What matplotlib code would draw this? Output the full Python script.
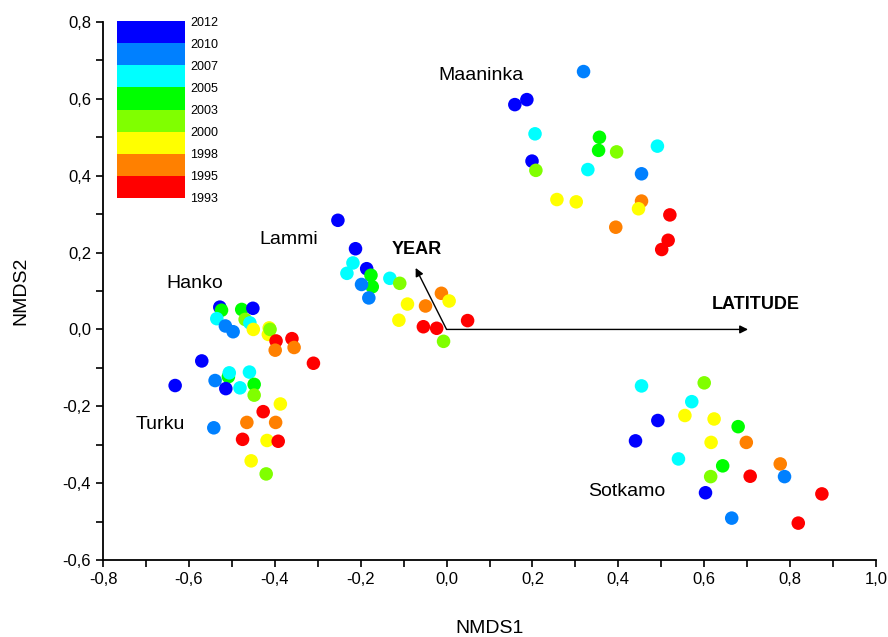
import matplotlib
matplotlib.use('Agg')
import matplotlib.pyplot as plt
from matplotlib.colors import ListedColormap, BoundaryNorm
from matplotlib.colorbar import ColorbarBase
from matplotlib.ticker import FuncFormatter, MultipleLocator

plt.rcParams['font.family'] = ['Liberation Sans', 'DejaVu Sans']

# year bands of the colour key
year_bounds = [1993, 1995, 1998, 2000, 2003, 2005, 2007, 2010, 2012]
band_colors = ['#ff0000', '#ff8000', '#ffff00', '#80ff00', '#00ff00', '#00ffff', '#0080ff', '#0000ff']

# Hanko + Turku (south-west)
sw_x = [-0.528, -0.524, -0.535, -0.515, -0.497, -0.477, -0.451, -0.469, -0.458, -0.450, -0.413, -0.415,
        -0.411, -0.397, -0.399, -0.360, -0.355, -0.310,
        -0.570, -0.632, -0.539, -0.508, -0.506, -0.514, -0.481, -0.459, -0.448, -0.448, -0.387, -0.427,
        -0.465, -0.398, -0.542, -0.475, -0.418, -0.392, -0.455, -0.420]
sw_y = [0.058, 0.050, 0.028, 0.009, -0.006, 0.052, 0.055, 0.026, 0.017, 0.000, 0.004, -0.013,
        0.000, -0.030, -0.054, -0.024, -0.047, -0.088,
        -0.082, -0.146, -0.133, -0.123, -0.113, -0.154, -0.152, -0.111, -0.143, -0.171, -0.194, -0.214,
        -0.242, -0.242, -0.256, -0.286, -0.289, -0.291, -0.342, -0.376]
sw_yr = [2011, 2004, 2006, 2008, 2008, 2004, 2011, 2001, 2006, 1999, 1999, 1999,
         2001, 1994, 1996, 1994, 1996, 1994,
         2011, 2011, 2008, 2004, 2006, 2011, 2006, 2006, 2004, 2001, 1999, 1994,
         1996, 1996, 2008, 1994, 1999, 1994, 1999, 2001]

# Lammi
lm_x = [-0.253, -0.212, -0.218, -0.232, -0.186, -0.176, -0.173, -0.198, -0.181, -0.132,
        -0.109, -0.091, -0.049, -0.012, 0.006, -0.111, -0.054, -0.023, 0.049, -0.007]
lm_y = [0.284, 0.210, 0.173, 0.146, 0.158, 0.141, 0.111, 0.117, 0.082, 0.133,
        0.120, 0.066, 0.061, 0.094, 0.074, 0.024, 0.007, 0.003, 0.023, -0.031]
lm_yr = [2011, 2011, 2006, 2006, 2011, 2004, 2004, 2008, 2008, 2006,
         2001, 1999, 1996, 1996, 1999, 1999, 1994, 1994, 1994, 2001]

# Maaninka
ma_x = [0.319, 0.159, 0.187, 0.206, 0.199, 0.208, 0.356, 0.354, 0.396, 0.329,
        0.491, 0.454, 0.257, 0.302, 0.454, 0.447, 0.394, 0.520, 0.516, 0.501]
ma_y = [0.671, 0.585, 0.598, 0.509, 0.438, 0.414, 0.500, 0.466, 0.462, 0.416,
        0.477, 0.405, 0.338, 0.332, 0.334, 0.314, 0.266, 0.298, 0.232, 0.208]
ma_yr = [2008, 2011, 2011, 2006, 2011, 2001, 2004, 2004, 2001, 2006,
         2006, 2008, 1999, 1999, 1996, 1999, 1996, 1994, 1994, 1994]

# Sotkamo
so_x = [0.454, 0.600, 0.571, 0.555, 0.492, 0.623, 0.679, 0.440, 0.616, 0.698,
        0.540, 0.643, 0.615, 0.707, 0.777, 0.787, 0.603, 0.874, 0.664, 0.819]
so_y = [-0.147, -0.139, -0.188, -0.224, -0.237, -0.233, -0.253, -0.290, -0.294, -0.294,
        -0.337, -0.355, -0.383, -0.382, -0.350, -0.383, -0.425, -0.428, -0.491, -0.504]
so_yr = [2006, 2001, 2006, 1999, 2011, 1999, 2004, 2011, 1999, 1996,
         2006, 2004, 2001, 1994, 1996, 2008, 2011, 1994, 2008, 1994]

sites = ['Maaninka', 'Lammi', 'Hanko', 'Turku', 'Sotkamo']
site_pos = [(-0.020, 0.661), (-0.437, 0.234), (-0.653, 0.120), (-0.725, -0.247), (0.329, -0.422)]

year_vec = (-0.072, 0.160)
lat_vec = (0.702, 0.0)

cmap = ListedColormap(band_colors)
norm = BoundaryNorm(year_bounds, cmap.N)

fig = plt.figure(figsize=(8.88, 6.37), dpi=100)
ax = fig.add_axes([103 / 888, 1 - 560 / 637, 773 / 888, 538 / 637])

for xs, ys, yrs in [(sw_x, sw_y, sw_yr), (lm_x, lm_y, lm_yr), (ma_x, ma_y, ma_yr), (so_x, so_y, so_yr)]:
    ax.scatter(xs, ys, c=yrs, cmap=cmap, norm=norm, s=95, linewidths=0, zorder=3)

for name, (tx, ty) in zip(sites, site_pos):
    ax.text(tx, ty, name, fontsize=14, ha='left', va='center')

for vec in [year_vec, lat_vec]:
    ax.annotate('', xy=vec, xytext=(0, 0),
                arrowprops=dict(arrowstyle='-|>', color='black', lw=1, mutation_scale=12,
                                shrinkA=0, shrinkB=0), zorder=4)
ax.text(-0.127, 0.208, 'YEAR', fontsize=13, fontweight='bold', ha='left', va='center')
ax.text(0.618, 0.065, 'LATITUDE', fontsize=13, fontweight='bold', ha='left', va='center')

ax.set_xlim(-0.8, 1.0)
ax.set_ylim(-0.6, 0.8)
ax.xaxis.set_major_locator(MultipleLocator(0.2))
ax.xaxis.set_minor_locator(MultipleLocator(0.1))
ax.yaxis.set_major_locator(MultipleLocator(0.2))
ax.yaxis.set_minor_locator(MultipleLocator(0.1))
comma = FuncFormatter(lambda v, p: ('%.1f' % v).replace('.', ',').replace('-0,0', '0,0'))
ax.xaxis.set_major_formatter(comma)
ax.yaxis.set_major_formatter(comma)
ax.tick_params(which='both', direction='out', length=5, width=1.2, labelsize=12)
ax.spines['top'].set_visible(False)
ax.spines['right'].set_visible(False)
ax.spines['left'].set_linewidth(1.3)
ax.spines['bottom'].set_linewidth(1.3)
ax.set_xlabel('NMDS1', fontsize=14, labelpad=24)
ax.set_ylabel('NMDS2', fontsize=14, labelpad=24)

cax = fig.add_axes([117 / 888, 1 - 198 / 637, 68 / 888, 177 / 637])
cb = ColorbarBase(cax, cmap=cmap, norm=norm, boundaries=year_bounds, spacing='uniform',
                  ticks=year_bounds, orientation='vertical')
cb.outline.set_visible(False)
cax.tick_params(length=0, labelsize=9, pad=4)

fig.savefig('out.png', dpi=100)
